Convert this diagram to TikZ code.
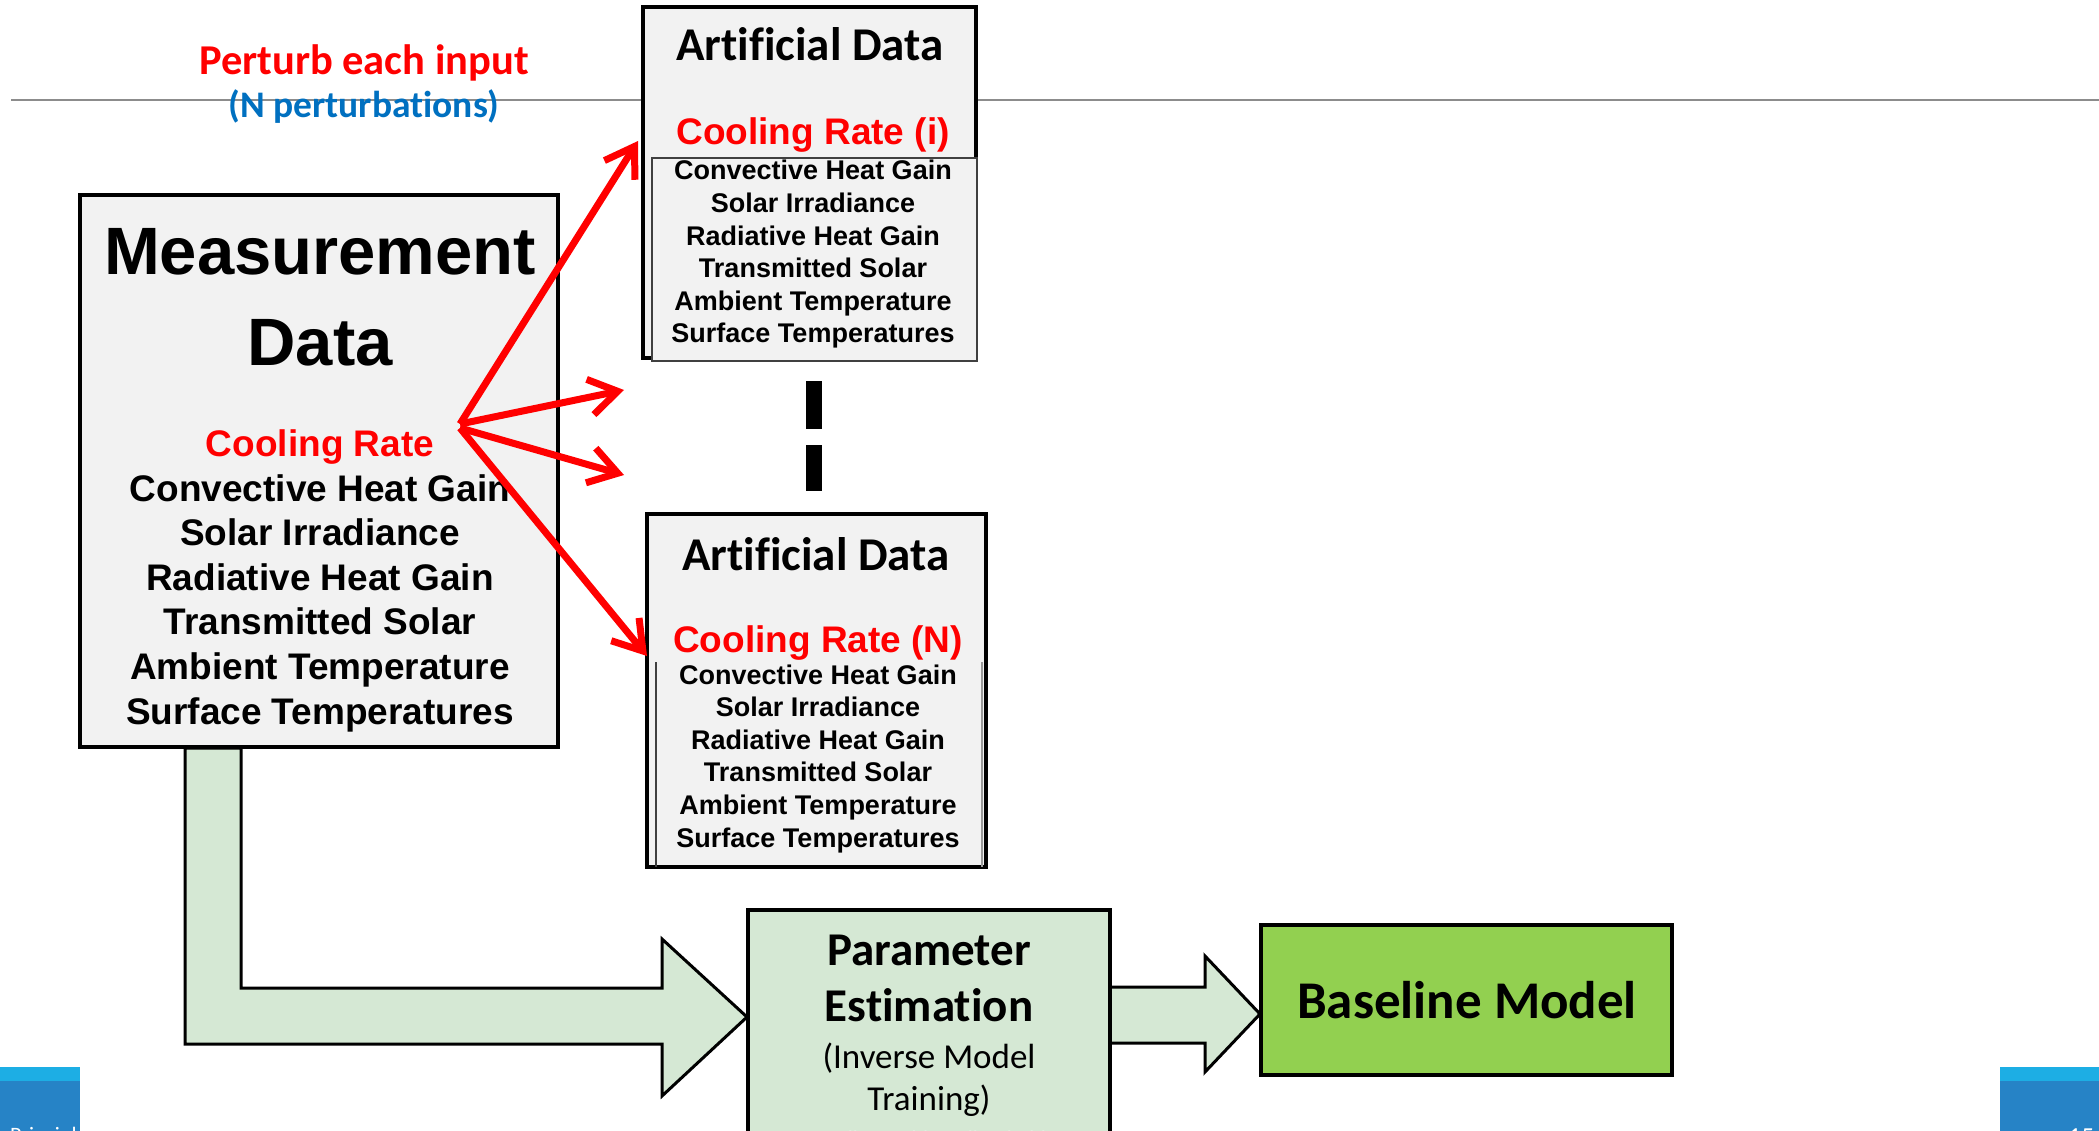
\documentclass[tikz,border=0pt]{standalone}
\usepackage{fontspec}
\setmainfont{Liberation Sans}
\newfontfamily\calf{Carlito}[Ligatures={NoCommon,NoDiscretionary,NoRare,NoContextual}]
\usetikzlibrary{arrows.meta}
\definecolor{boxgray}{HTML}{F2F2F2}
\definecolor{lgreen}{HTML}{D5E8D4}
\definecolor{bgreen}{HTML}{92D050}
\definecolor{pblue}{HTML}{0070C0}
\definecolor{stripe}{HTML}{1DAEE4}
\definecolor{footblue}{HTML}{2683C6}
\definecolor{rulegray}{HTML}{8C8C8C}
\definecolor{pred}{HTML}{FF0000}
\begin{document}
\begin{tikzpicture}[x=1pt,y=-1pt,inner sep=0pt,outer sep=0pt,
  thickbox/.style={draw=black,line width=3.5pt,fill=boxgray,anchor=north west},
  thinbox/.style={draw=black!75,line width=2pt,fill=boxgray,anchor=north west},
  blockarrow/.style={draw=black,line width=3pt,fill=lgreen,line join=miter},
  redarrow/.style={draw=pred,line width=7pt,-{Straight Barb[length=28pt,width=36pt]}},
  bigtitle/.style={anchor=base,font=\fontsize{67}{80}\selectfont\bfseries},
  redbig/.style={anchor=base,text=pred,font=\fontsize{37}{44}\selectfont\bfseries},
  listbig/.style={anchor=base,font=\fontsize{37}{44}\selectfont\bfseries},
  listsmall/.style={anchor=base,font=\fontsize{27}{32}\selectfont\bfseries},
  calhead/.style={anchor=base,font=\fontsize{47}{56}\selectfont\calf\bfseries},
  foottext/.style={anchor=base west,text=white,font=\fontsize{22}{26}\selectfont\calf}]
\useasboundingbox (0,0) rectangle (2099,1131);
\clip (0,0) rectangle (2099,1131);
\fill[white] (0,0) rectangle (2099,1131);

% horizontal rule
\draw[rulegray,line width=2.5pt] (11,100) -- (2099,100);

% top labels
\node[anchor=base,text=pred,font=\fontsize{42.5}{50}\selectfont\calf\bfseries] (pert) at (364,75) {Perturb each input};
\node[anchor=base,text=pblue,font=\fontsize{37.5}{45}\selectfont\calf\bfseries] (npert) at (364,118) {(N perturbations)};

% block arrow from measurement to parameter estimation
\draw[blockarrow] (185,748) -- (241,748) -- (241,988) -- (662,988) -- (662,939) -- (747,1017) -- (662,1096) -- (662,1044) -- (185,1044) -- cycle;
% block arrow from parameter estimation to baseline
\draw[blockarrow] (1110,987) -- (1205,987) -- (1205,956) -- (1260,1014) -- (1205,1072) -- (1205,1043) -- (1110,1043);

% measurement box
\node[thickbox,minimum width=478pt,minimum height=552pt] (meas) at (80,195) {};
\node[bigtitle] (mt1) at (320,275) {Measurement};
\node[bigtitle] (mt2) at (320,366) {Data};
\node[redbig] (mcr) at (320,456) {Cooling Rate};
\foreach \t [count=\i] in {Convective Heat Gain,Solar Irradiance,Radiative Heat Gain,Transmitted Solar,Ambient Temperature,Surface Temperatures}{
  \node[listbig] (ml\i) at (320,{501+(\i-1)*44.6}) {\t};
}

% artificial data box 1
\node[thickbox,line width=4pt,minimum width=333pt,minimum height=351pt] (a1) at (643,7) {};
\node[thinbox,minimum width=325pt,minimum height=203pt] (a1in) at (652,158) {};
\node[calhead] (a1t) at (810,61) {Artificial Data};
\node[redbig] (a1cr) at (813,145) {Cooling Rate (i)};
\foreach \t [count=\i] in {Convective Heat Gain,Solar Irradiance,Radiative Heat Gain,Transmitted Solar,Ambient Temperature,Surface Temperatures}{
  \node[listsmall] (a1l\i) at (813,{180+(\i-1)*32.6}) {\t};
}

% dashes
\fill[black] (806,381) rectangle (822,429);
\fill[black] (806,445) rectangle (822,491);

% artificial data box 2
\node[thickbox,line width=4pt,minimum width=339pt,minimum height=353pt] (a2) at (647,514) {};
\draw[black!75,line width=2pt] (656,662) -- (656,867);
\draw[black!40,line width=1.5pt] (982,662) -- (982,867);
\node[calhead] (a2t) at (816,570) {Artificial Data};
\node[redbig] (a2cr) at (818,652) {Cooling Rate (N)};
\foreach \t [count=\i] in {Convective Heat Gain,Solar Irradiance,Radiative Heat Gain,Transmitted Solar,Ambient Temperature,Surface Temperatures}{
  \node[listsmall] (a2l\i) at (818,{684+(\i-1)*32.6}) {\t};
}

% red arrows
\coordinate (src1) at (460,424);
\coordinate (src2) at (460,428);
\coordinate (t1) at (638,141);
\coordinate (t2) at (624,390);
\coordinate (t3) at (624,475);
\coordinate (t4) at (647,656);
\draw[redarrow] (src1) -- (t1);
\draw[redarrow] (src1) -- (t2);
\draw[redarrow] (src2) -- (t3);
\draw[redarrow] (src2) -- (t4);

% parameter estimation
\node[draw=black,line width=3.5pt,fill=lgreen,anchor=north west,minimum width=362pt,minimum height=240pt] (param) at (748,910) {};
\node[calhead] (p1) at (929,965) {Parameter};
\node[calhead] (p2) at (929,1021) {Estimation};
\node[anchor=base,font=\fontsize{35}{42}\selectfont\calf] (p3) at (929,1068) {(Inverse Model};
\node[anchor=base,font=\fontsize{35}{42}\selectfont\calf] (p4) at (929,1110) {Training)};
\node[foottext] (mb) at (812,1146) {Madhur Behl madhur.behl};

% baseline model
\node[draw=black,line width=4pt,fill=bgreen,anchor=north west,minimum width=411pt,minimum height=150pt] (base) at (1261,925) {};
\node[anchor=base,font=\fontsize{53}{63}\selectfont\calf\bfseries] (bt) at (1467,1018) {Baseline Model};

% footer
\fill[footblue] (0,1067) rectangle (80,1131);
\fill[stripe] (0,1067) rectangle (80,1081);
\node[foottext] (fl) at (10,1142) {Principles};
\fill[footblue] (2000,1067) rectangle (2099,1131);
\fill[stripe] (2000,1067) rectangle (2099,1081);
\node[foottext,font=\fontsize{26}{30}\selectfont\calf] (fr) at (2068,1145) {15};
\end{tikzpicture}
\end{document}
